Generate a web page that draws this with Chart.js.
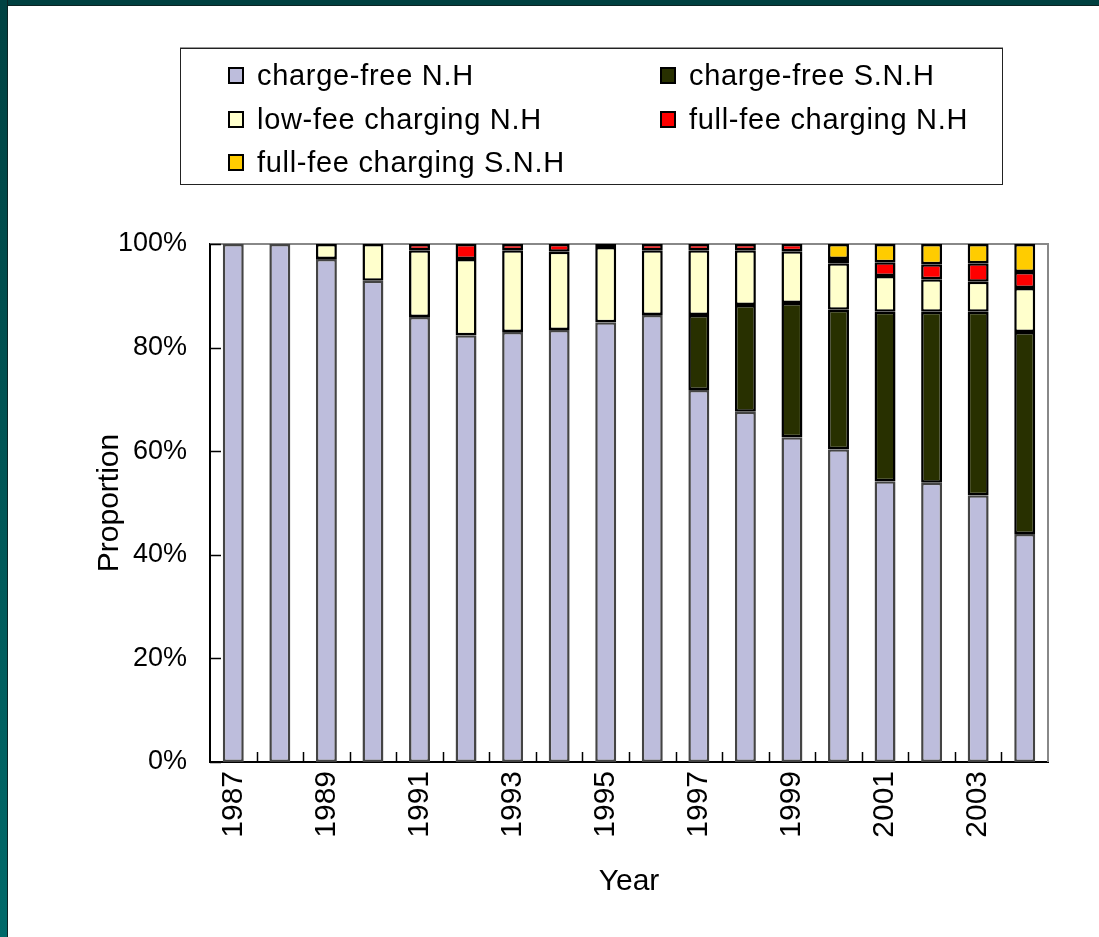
<!DOCTYPE html>
<html>
<head>
<meta charset="utf-8">
<script src="https://cdn.jsdelivr.net/npm/chart.js@4.4.0/dist/chart.umd.min.js"></script>
<style>
  body { margin: 0; background: #fff; font-family: "Liberation Sans", Arial, sans-serif; }
  #wrap { position: relative; width: 1099px; height: 937px; overflow: hidden; background: #fff; }
  #topbar { position: absolute; left: 0; top: 0; width: 1099px; height: 5px; background: #004040; border-bottom: 1px solid #0c2424; }
  #leftbar { position: absolute; left: 0; top: 0; width: 7px; height: 937px; background: linear-gradient(#004242, #006a6a); border-right: 1px solid #0c2424; }
  #chart { position: absolute; left: 0; top: 0; }
  #legend { position: absolute; left: 180px; top: 48px; width: 821px; height: 135px; border: 1px solid #222; box-shadow: 0 -1px 0 #999; }
  .item { position: absolute; font-size: 29px; letter-spacing: 0.7px; color: #000; line-height: 32px; white-space: nowrap; }
  .item span { position: absolute; left: 0; top: 8px; width: 12px; height: 13px; border: 2px solid #000; }
  .item b { font-weight: normal; position: absolute; left: 29px; top: 0; }
</style>
</head>
<body>
<div id="wrap">
  <div id="topbar"></div>
  <div id="leftbar"></div>
  <canvas id="chart" width="1099" height="937"></canvas>
  <div id="legend"></div>
</div>
<script>
var years = ["1987", "1988", "1989", "1990", "1991", "1992", "1993", "1994", "1995",
             "1996", "1997", "1998", "1999", "2000", "2001", "2002", "2003", "2004"];
var yTicks = [0, 20, 40, 60, 80, 100];

// share (%) of each group, bottom to top
var chargeFreeNH  = [100, 100, 97.1, 92.9, 85.9, 82.4, 83.0, 83.4, 84.9, 86.3, 71.8, 67.6, 62.7, 60.4, 54.2, 53.9, 51.5, 44.0];
var chargeFreeSNH = [0, 0, 0, 0, 0, 0, 0, 0, 0, 0, 14.5, 20.6, 25.9, 26.9, 32.7, 33.0, 35.4, 39.0];
var lowFeeNH      = [0, 0, 2.9, 7.1, 12.9, 14.7, 15.8, 15.1, 14.5, 12.5, 12.5, 10.6, 10.0, 9.0, 6.9, 6.3, 5.8, 8.5];
var fullFeeNH     = [0, 0, 0, 0, 1.2, 2.9, 1.2, 1.5, 0.6, 1.2, 1.2, 1.2, 1.4, 0.8, 2.7, 2.9, 3.6, 3.1];
var fullFeeSNH    = [0, 0, 0, 0, 0, 0, 0, 0, 0, 0, 0, 0, 0, 2.9, 3.5, 3.9, 3.7, 5.4];

var series = [
  { label: "charge-free N.H", data: chargeFreeNH, color: "#BDBDDC", border: "#444" },
  { label: "charge-free S.N.H", data: chargeFreeSNH, color: "#283000", border: "#000" },
  { label: "low-fee charging N.H", data: lowFeeNH, color: "#FFFFCC", border: "#000" },
  { label: "full-fee charging N.H", data: fullFeeNH, color: "#FF0000", border: "#000" },
  { label: "full-fee charging S.N.H", data: fullFeeSNH, color: "#FFCC00", border: "#000" }
];

var font = "'Liberation Sans', Arial, sans-serif";

// legend (two columns, like the original)
var lg = document.getElementById("legend");
series.forEach(function (s, i) {
  var d = document.createElement("div");
  d.className = "item";
  d.style.left = (i % 2 == 0 ? 47 : 479) + "px";
  d.style.top = (10 + Math.floor(i / 2) * 43.5) + "px";
  d.innerHTML = '<span style="background:' + s.color + '"></span><b></b>';
  d.querySelector("b").textContent = s.label;
  lg.appendChild(d);
});

// gray plot frame and inner tick marks
var frame = {
  id: "frame",
  beforeDatasetsDraw: function (chart) {
    var a = chart.chartArea, c = chart.ctx, x = chart.scales.x, y = chart.scales.y;
    c.save();
    c.strokeStyle = "#888";
    c.lineWidth = 2;
    c.beginPath();
    c.moveTo(a.left, a.top); c.lineTo(a.right, a.top); c.lineTo(a.right, a.bottom);
    c.stroke();
    c.strokeStyle = "#000";
    c.lineWidth = 1.5;
    c.beginPath();
    yTicks.forEach(function (v) {
      var py = Math.round(y.getPixelForValue(v)) + 0.5;
      c.moveTo(a.left, py); c.lineTo(a.left + 11, py);
    });
    for (var i = 1; i < years.length; i++) {
      var px = Math.round((x.getPixelForValue(i - 1) + x.getPixelForValue(i)) / 2) + 0.5;
      c.moveTo(px, a.bottom); c.lineTo(px, a.bottom - 10);
    }
    c.stroke();
    c.restore();
  }
};

var ctx = document.getElementById("chart").getContext("2d");
window.myBar = new Chart(ctx, {
  type: "bar",
  data: {
    labels: years,
    datasets: series.map(function (s) {
      return {
        label: s.label,
        data: s.data.map(function (v) { return v > 0 ? v : null; }),
        backgroundColor: s.color,
        borderColor: s.border,
        borderWidth: 2.5,
        borderSkipped: false,
        barPercentage: 0.45,
        categoryPercentage: 1
      };
    })
  },
  options: {
    responsive: false,
    animation: false,
    layout: { padding: { left: 80, right: 51, top: 244, bottom: 30 } },
    plugins: { legend: { display: false }, tooltip: { enabled: false } },
    scales: {
      x: {
        stacked: true,
        grid: { display: false, drawTicks: false },
        border: { display: true, color: "#000", width: 2 },
        ticks: {
          autoSkip: false, minRotation: 90, maxRotation: 90, padding: 9,
          color: "#000", font: { family: font, size: 30 },
          callback: function (v, i) { return i % 2 == 0 ? years[i] : ""; }
        },
        title: { display: true, text: "Year", color: "#000", font: { family: font, size: 30 }, padding: { top: 0, bottom: 7 } },
        afterFit: function (s) { s.height = 145; }
      },
      y: {
        stacked: true,
        min: 0, max: 100,
        grid: { display: false, drawTicks: false },
        border: { display: true, color: "#000", width: 2 },
        ticks: {
          stepSize: 20, padding: 23, color: "#000",
          font: { family: font, size: 27 },
          callback: function (v) { return v + "%"; }
        },
        title: { display: true, text: "Proportion", color: "#000", font: { family: font, size: 30 }, padding: { top: 12, bottom: 0 } },
        afterFit: function (s) { s.width = 130; }
      }
    }
  },
  plugins: [frame]
});
</script>
</body>
</html>
